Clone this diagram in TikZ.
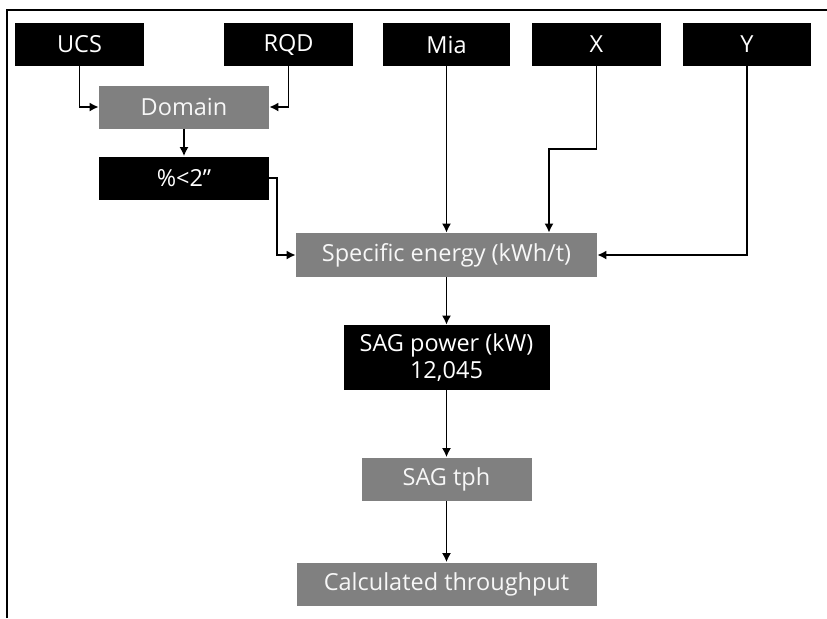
\documentclass[tikz,border=0pt]{standalone}
\usepackage{fontspec}
\setmainfont{Open Sans}
\usetikzlibrary{arrows.meta}
\begin{document}
\begin{tikzpicture}[
  x=0.5pt,y=-0.5pt,
  box/.style={minimum height=21.5pt,inner sep=0pt,align=center,font=\fontsize{11.75}{13.5}\selectfont},
  darkbox/.style={box,fill=black,text=white},
  greybox/.style={box,fill=gray,text=white!94!gray},
  arrow/.style={-{Latex[length=4.5pt,width=4.5pt]},line width=0.75pt},
  frame/.style={line width=1pt}
]
  \useasboundingbox (0,0) rectangle (827,618);
  \draw[frame] (7,618) -- (7,9.5) -- (827,9.5);

  \node[darkbox,minimum width=64.5pt] (ucs) at (79.5,44.5) {UCS};
  \node[darkbox,minimum width=64.5pt] (rqd) at (288.5,44.5) {RQD};
  \node[darkbox,minimum width=63.5pt] (mia) at (446.5,44.5) {Mia};
  \node[darkbox,minimum width=64.5pt] (xval) at (596.5,44.5) {X};
  \node[darkbox,minimum width=64pt] (yval) at (747,44.5) {Y};

  \node[greybox,minimum width=85pt] (domain) at (184,107) {Domain};
  \node[darkbox,minimum width=85pt] (pct) at (184,178) {\%<2”};
  \node[greybox,minimum width=150.5pt,minimum height=22pt] (spec) at (446.5,255) {Specific energy (kWh/t)};
  \node[darkbox,minimum width=103pt,minimum height=32.5pt] (power) at (446.5,357.5) {SAG power (kW)\\12,045};
  \node[greybox,minimum width=85pt] (tph) at (446.5,479) {SAG tph};
  \node[greybox,minimum width=150pt] (calc) at (446.5,584) {Calculated throughput};

  \coordinate (xbend) at (549,149);
  \coordinate (pctbend) at (277,178);

  \draw[arrow] (ucs.south) |- (domain.west);
  \draw[arrow] (rqd.south) |- (domain.east);
  \draw[arrow] (domain) -- (pct);
  \draw[arrow] (pct.east) -- (pctbend) |- (spec.west);
  \draw[arrow] (mia) -- (spec);
  \draw[arrow] (xval.south) |- (xbend) -- (xbend |- spec.north);
  \draw[arrow] (yval.south) |- (spec.east);
  \draw[arrow] (spec) -- (power);
  \draw[arrow] (power) -- (tph);
  \draw[arrow] (tph) -- (calc);
\end{tikzpicture}
\end{document}
